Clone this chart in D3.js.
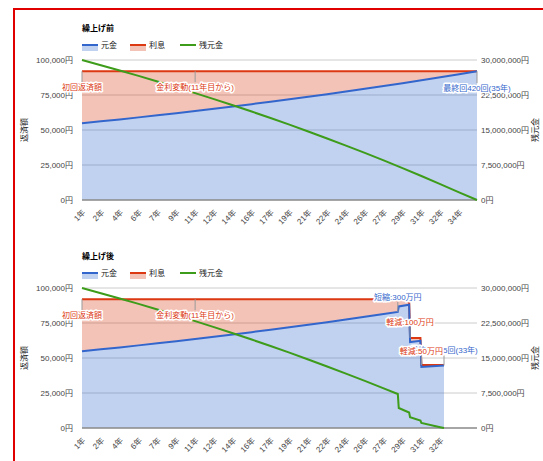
<!DOCTYPE html>
<html><head><meta charset="utf-8">
<script src="https://cdn.jsdelivr.net/npm/d3@7/dist/d3.min.js"></script>
<style>
body{margin:0;background:#fff}
svg text{font-family:'Liberation Sans','Noto Sans CJK JP',Arial,sans-serif;}
</style></head><body>
<svg id="c" width="543" height="461"></svg>
<script>
// ---------- data ----------
const seriesNames = ["元金", "利息", "残元金"];
const seriesColors = ["#3366cc", "#dc3912", "#3d9c1a"];

const xTickMonthsBefore = [1,21,41,61,81,101,121,141,161,181,201,221,241,261,281,301,321,341,361,381,401];
const xTickLabelsBefore = ["1年","2年","4年","6年","7年","9年","11年","12年","14年","16年","17年","19年","21年","22年","24年","26年","27年","29年","31年","32年","34年"];
const xTickMonthsAfter = [1,21,41,61,81,101,121,141,161,181,201,221,241,261,281,301,321,341,361,381];
const xTickLabelsAfter = ["1年","2年","4年","6年","7年","9年","11年","12年","14年","16年","17年","19年","21年","22年","24年","26年","27年","29年","31年","32年"];

const leftTicks = [0, 25000, 50000, 75000, 100000];
const leftTickLabels = ["0円", "25,000円", "50,000円", "75,000円", "100,000円"];
const rightTicks = [0, 7500000, 15000000, 22500000, 30000000];
const rightTickLabels = ["0円", "7,500,000円", "15,000,000円", "22,500,000円", "30,000,000円"];

// 繰上げ前 (before prepayment)
const monthsBefore    = [1,21,41,61,81,101,121,141,161,181,201,221,241,261,281,301,321,341,361,381,401,420];
const principalBefore = [54800,56170,57580,59020,60500,62020,63570,65160,66790,68470,70180,71940,73740,75590,77480,79420,81410,83450,85540,87690,89880,92000];
const paymentBefore   = [92000,92000,92000,92000,92000,92000,92000,92000,92000,92000,92000,92000,92000,92000,92000,92000,92000,92000,92000,92000,92000,92000];
const balanceBefore   = [30000000,28890000,27750000,26590000,25390000,24170000,22910000,21620000,20300000,18950000,17570000,16140000,14690000,13190000,11660000,10090000,8490000,6840000,5150000,3410000,1640000,0];

// 繰上げ後 (after prepayment)
const monthsAfter    = [1,21,41,61,81,101,121,141,161,181,201,221,241,261,281,301,321,336,337,348,349,360,361,381,385];
const principalAfter = [54800,56170,57580,59020,60500,62020,63570,65160,66790,68470,70180,71940,73740,75590,77480,79420,81410,82940,86800,88100,61400,62300,43600,44500,44700];
const paymentAfter   = [92000,92000,92000,92000,92000,92000,92000,92000,92000,92000,92000,92000,92000,92000,92000,92000,92000,92000,92000,92000,64300,64300,45000,45000,45000];
const balanceAfter   = [30000000,28890000,27750000,26590000,25390000,24170000,22910000,21620000,20300000,18950000,17570000,16140000,14690000,13190000,11660000,10090000,8490000,7280000,4280000,3330000,2330000,1600000,1090000,180000,0];

const annotationsBefore = [
  {series: 1, month: 1,   text: "初回返済額", dy: 16},
  {series: 1, month: 121, text: "金利変動(11年目から)", dy: 16},
  {series: 0, month: 420, text: "最終回420回(35年)", dy: 17}
];
const annotationsAfter = [
  {series: 1, month: 1,   text: "初回返済額", dy: 16},
  {series: 1, month: 121, text: "金利変動(11年目から)", dy: 16},
  {series: 0, month: 336, text: "短縮:300万円", dy: -15},
  {series: 1, month: 349, text: "軽減:100万円", dy: -16},
  {series: 0, month: 385, text: "最終回385回(33年)", dy: -15},
  {series: 1, month: 361, text: "軽減:50万円", dy: -14}
];

// ---------- drawing ----------
const svg = d3.select("#c");
const FS = 8;

// outer red frame
svg.append("path").attr("d", "M14,470 V9 H560").attr("fill", "none")
  .attr("stroke", "#e00000").attr("stroke-width", 2);

function drawChart(cfg) {
  const g = svg.append("g");
  const top = cfg.top, bottom = cfg.top + 140;
  const x = d3.scaleLinear().domain([1, 420]).range([82, 477]);
  const yL = d3.scaleLinear().domain([0, 100000]).range([bottom, top]);
  const yR = d3.scaleLinear().domain([0, 30000000]).range([bottom, top]);

  // title
  g.append("text").attr("x", 82).attr("y", top - 32 + 3).attr("font-size", FS)
    .attr("font-weight", "bold").attr("fill", "#000").text(cfg.title);

  // legend
  const ly = top - 15;
  const legendX = [82, 130, 180];
  seriesNames.forEach((n, i) => {
    const lx = legendX[i];
    if (i < 2) {
      g.append("rect").attr("x", lx).attr("y", ly).attr("width", 16).attr("height", 6)
        .attr("fill", seriesColors[i]).attr("fill-opacity", 0.3);
    }
    g.append("line").attr("x1", lx).attr("x2", lx + 16).attr("y1", ly).attr("y2", ly)
      .attr("stroke", seriesColors[i]).attr("stroke-width", 2);
    g.append("text").attr("x", lx + 19).attr("y", ly + 3).attr("font-size", FS)
      .attr("fill", "#222").text(n);
  });

  // gridlines
  leftTicks.forEach((t, i) => {
    if (t === 0) return;
    g.append("line").attr("x1", 82).attr("x2", 477).attr("y1", yL(t)).attr("y2", yL(t))
      .attr("stroke", "#cccccc").attr("stroke-width", 1);
  });

  const months = cfg.months, pr = cfg.principal, pay = cfg.payment, bal = cfg.balance;
  const idx = d3.range(months.length);

  // stacked areas
  g.append("path").datum(idx)
    .attr("d", d3.area().x(i => x(months[i])).y0(i => yL(pr[i])).y1(i => yL(pay[i])))
    .attr("fill", seriesColors[1]).attr("fill-opacity", 0.3);
  g.append("path").datum(idx)
    .attr("d", d3.area().x(i => x(months[i])).y0(yL(0)).y1(i => yL(pr[i])))
    .attr("fill", seriesColors[0]).attr("fill-opacity", 0.3);

  // baseline
  g.append("line").attr("x1", 82).attr("x2", 477).attr("y1", yL(0)).attr("y2", yL(0))
    .attr("stroke", "#888").attr("stroke-width", 1.5);

  // lines
  g.append("path").datum(idx)
    .attr("d", d3.line().x(i => x(months[i])).y(i => yL(pay[i])))
    .attr("fill", "none").attr("stroke", seriesColors[1]).attr("stroke-width", 2);
  g.append("path").datum(idx)
    .attr("d", d3.line().x(i => x(months[i])).y(i => yL(pr[i])))
    .attr("fill", "none").attr("stroke", seriesColors[0]).attr("stroke-width", 2);
  g.append("path").datum(idx)
    .attr("d", d3.line().x(i => x(months[i])).y(i => yR(bal[i])))
    .attr("fill", "none").attr("stroke", seriesColors[2]).attr("stroke-width", 2);

  // left axis labels
  leftTicks.forEach((t, i) => {
    g.append("text").attr("x", 73).attr("y", yL(t)).attr("dy", "0.35em")
      .attr("text-anchor", "end").attr("font-size", FS).attr("fill", "#444").text(leftTickLabels[i]);
  });
  rightTicks.forEach((t, i) => {
    g.append("text").attr("x", 481).attr("y", yR(t)).attr("dy", "0.35em")
      .attr("text-anchor", "start").attr("font-size", FS).attr("fill", "#444").text(rightTickLabels[i]);
  });
  // axis titles
  g.append("text").attr("transform", `translate(27,${(top + bottom) / 2}) rotate(-90)`)
    .attr("text-anchor", "middle").attr("font-size", FS).attr("fill", "#222").text("返済額");
  g.append("text").attr("transform", `translate(538,${(top + bottom) / 2}) rotate(-90)`)
    .attr("text-anchor", "middle").attr("font-size", FS).attr("fill", "#222").text("残元金");

  // x labels
  cfg.xTicks.forEach((m, i) => {
    g.append("text").attr("transform", `translate(${x(m) + 2},${bottom + 11}) rotate(-45)`)
      .attr("text-anchor", "end").attr("dy", "0.35em").attr("font-size", FS).attr("fill", "#444")
      .text(cfg.xLabels[i]);
  });

  // annotations
  cfg.annotations.forEach(a => {
    const k = months.indexOf(a.month);
    const v = a.series === 0 ? pr[k] : pay[k];
    const px = x(a.month), py = yL(v);
    const ty = py + a.dy;
    const s0 = a.dy > 0 ? py : ty + 5, s1 = a.dy > 0 ? ty - 5 : py;
    g.append("line").attr("x1", px).attr("x2", px).attr("y1", s0).attr("y2", s1)
      .attr("stroke", "#999").attr("stroke-width", 1);
    g.append("text").attr("x", px).attr("y", ty).attr("dy", "0.35em").attr("text-anchor", "middle")
      .attr("font-size", FS).attr("fill", seriesColors[a.series])
      .attr("stroke", "#fff").attr("stroke-width", 3).attr("paint-order", "stroke")
      .attr("stroke-linejoin", "round").text(a.text);
  });
}

drawChart({top: 60, title: "繰上げ前", months: monthsBefore, principal: principalBefore,
  payment: paymentBefore, balance: balanceBefore, xTicks: xTickMonthsBefore,
  xLabels: xTickLabelsBefore, annotations: annotationsBefore});
drawChart({top: 288, title: "繰上げ後", months: monthsAfter, principal: principalAfter,
  payment: paymentAfter, balance: balanceAfter, xTicks: xTickMonthsAfter,
  xLabels: xTickLabelsAfter, annotations: annotationsAfter});
</script>
</body></html>
